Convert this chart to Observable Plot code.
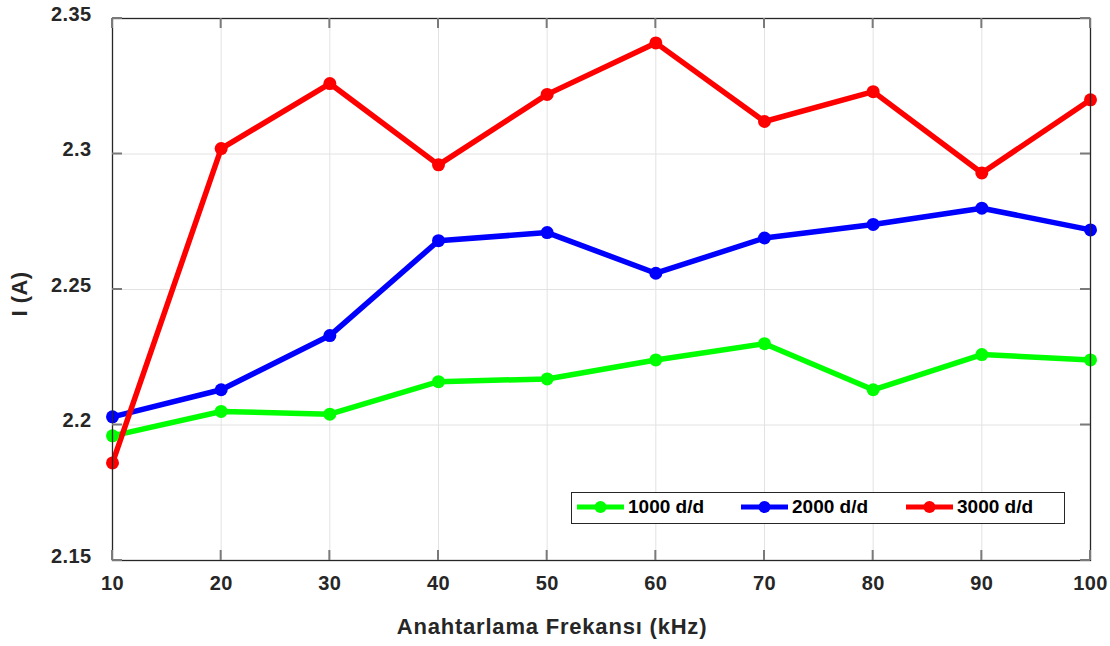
<!DOCTYPE html>
<html><head><meta charset="utf-8">
<script src="https://cdn.jsdelivr.net/npm/d3@7"></script>
<script src="https://cdn.jsdelivr.net/npm/@observablehq/plot@0.6"></script>
<style>
html,body{margin:0;padding:0;background:#fff;}
#wrap{position:relative;width:1110px;height:646px;font-family:"Liberation Sans",Arial,sans-serif;}
#legend{position:absolute;left:571px;top:492px;width:492px;height:30px;border:1.3px solid #262626;background:#fff;font-weight:bold;font-size:19px;color:#000;}
.item{display:flex;align-items:center;position:absolute;top:3px;height:22px;}
</style>
</head><body>
<div id="wrap"></div>
<script>
const freq = [10, 20, 30, 40, 50, 60, 70, 80, 90, 100];
const s1000 = [2.196, 2.205, 2.204, 2.216, 2.217, 2.224, 2.230, 2.213, 2.226, 2.224];
const s2000 = [2.203, 2.213, 2.233, 2.268, 2.271, 2.256, 2.269, 2.274, 2.280, 2.272];
const s3000 = [2.186, 2.302, 2.326, 2.296, 2.322, 2.341, 2.312, 2.323, 2.293, 2.320];
const seriesNames = ["1000 d/d", "2000 d/d", "3000 d/d"];
const seriesColors = ["#00ff00", "#0000ff", "#ff0000"];
const xTicks = [10, 20, 30, 40, 50, 60, 70, 80, 90, 100];
const yTicks = [2.15, 2.2, 2.25, 2.3, 2.35];

const allSeries = [s1000, s2000, s3000];
const data = [];
allSeries.forEach((vals, i) => vals.forEach((v, j) => data.push({x: freq[j], y: v, s: seriesNames[i]})));

const chart = Plot.plot({
  width: 1110, height: 646,
  marginLeft: 112, marginRight: 20, marginTop: 18, marginBottom: 86,
  style: {fontFamily: "Liberation Sans, Arial, sans-serif", fontWeight: "bold", fontSize: "20px", color: "#262626", background: "#fff", letterSpacing: "0.4px"},
  x: {type: "linear", domain: [10, 100]},
  y: {type: "linear", domain: [2.15, 2.35]},
  color: {domain: seriesNames, range: seriesColors},
  marks: [
    Plot.gridX(xTicks, {stroke: "#e2e2e2", strokeOpacity: 1, strokeWidth: 1}),
    Plot.gridY(yTicks, {stroke: "#e2e2e2", strokeOpacity: 1, strokeWidth: 1}),
    Plot.axisX(xTicks, {anchor: "bottom", tickSize: 0, tickPadding: 15, fontSize: 20, fontWeight: "bold", fill: "#262626", label: null, tickFormat: d => String(d)}),
    Plot.axisY(yTicks, {anchor: "left", tickSize: 0, tickPadding: 21, dy: -4, fontSize: 20, fontWeight: "bold", fill: "#262626", label: null, tickFormat: d => String(+d.toFixed(2))}),
    Plot.line(data, {x: "x", y: "y", z: "s", stroke: "s", strokeWidth: 5.5, strokeLinejoin: "round", strokeLinecap: "round"}),
    Plot.dot(data, {x: "x", y: "y", fill: "s", r: 6.5}),
    Plot.frame({stroke: "#262626", strokeWidth: 1.3})
  ]
});
document.getElementById("wrap").appendChild(chart);

// inward tick marks on all four sides, positioned with Plot's scales
const svg = d3.select(chart);
const xs = chart.scale("x"), ys = chart.scale("y");
const g = svg.append("g").attr("stroke", "#7a7a7a").attr("stroke-width", 2);
const y0 = ys.apply(2.15), y1 = ys.apply(2.35), x0 = xs.apply(10), x1 = xs.apply(100);
xTicks.forEach(t => {
  const px = xs.apply(t);
  g.append("line").attr("x1", px).attr("x2", px).attr("y1", y0).attr("y2", y0 - 10);
  g.append("line").attr("x1", px).attr("x2", px).attr("y1", y1).attr("y2", y1 + 10);
});
yTicks.forEach(t => {
  const py = ys.apply(t);
  g.append("line").attr("x1", x0).attr("x2", x0 + 10).attr("y1", py).attr("y2", py);
  g.append("line").attr("x1", x1).attr("x2", x1 - 10).attr("y1", py).attr("y2", py);
});

// axis titles
svg.append("text").attr("x", 552).attr("y", 634).attr("text-anchor", "middle")
  .attr("font-size", 22).attr("font-weight", "bold").attr("letter-spacing", "0.8px").attr("fill", "#262626").text("Anahtarlama Frekansı (kHz)");
svg.append("text").attr("transform", "translate(27," + (ys.apply(2.25) + 5) + ") rotate(-90)").attr("text-anchor", "middle")
  .attr("font-size", 22).attr("font-weight", "bold").attr("fill", "#262626").text("I (A)");

// legend
const lg = document.createElement("div");
lg.id = "legend";
const offsets = [4, 168, 333];
seriesNames.forEach((n, i) => {
  const it = document.createElement("div");
  it.className = "item";
  it.style.left = offsets[i] + "px";
  it.innerHTML = `<svg width="50" height="20"><line x1="1" x2="48" y1="10" y2="10" stroke="${seriesColors[i]}" stroke-width="5"/><circle cx="24.5" cy="10" r="6" fill="${seriesColors[i]}"/></svg><span style="margin-left:2px">${n}</span>`;
  lg.appendChild(it);
});
document.getElementById("wrap").appendChild(lg);
</script>
</body></html>
